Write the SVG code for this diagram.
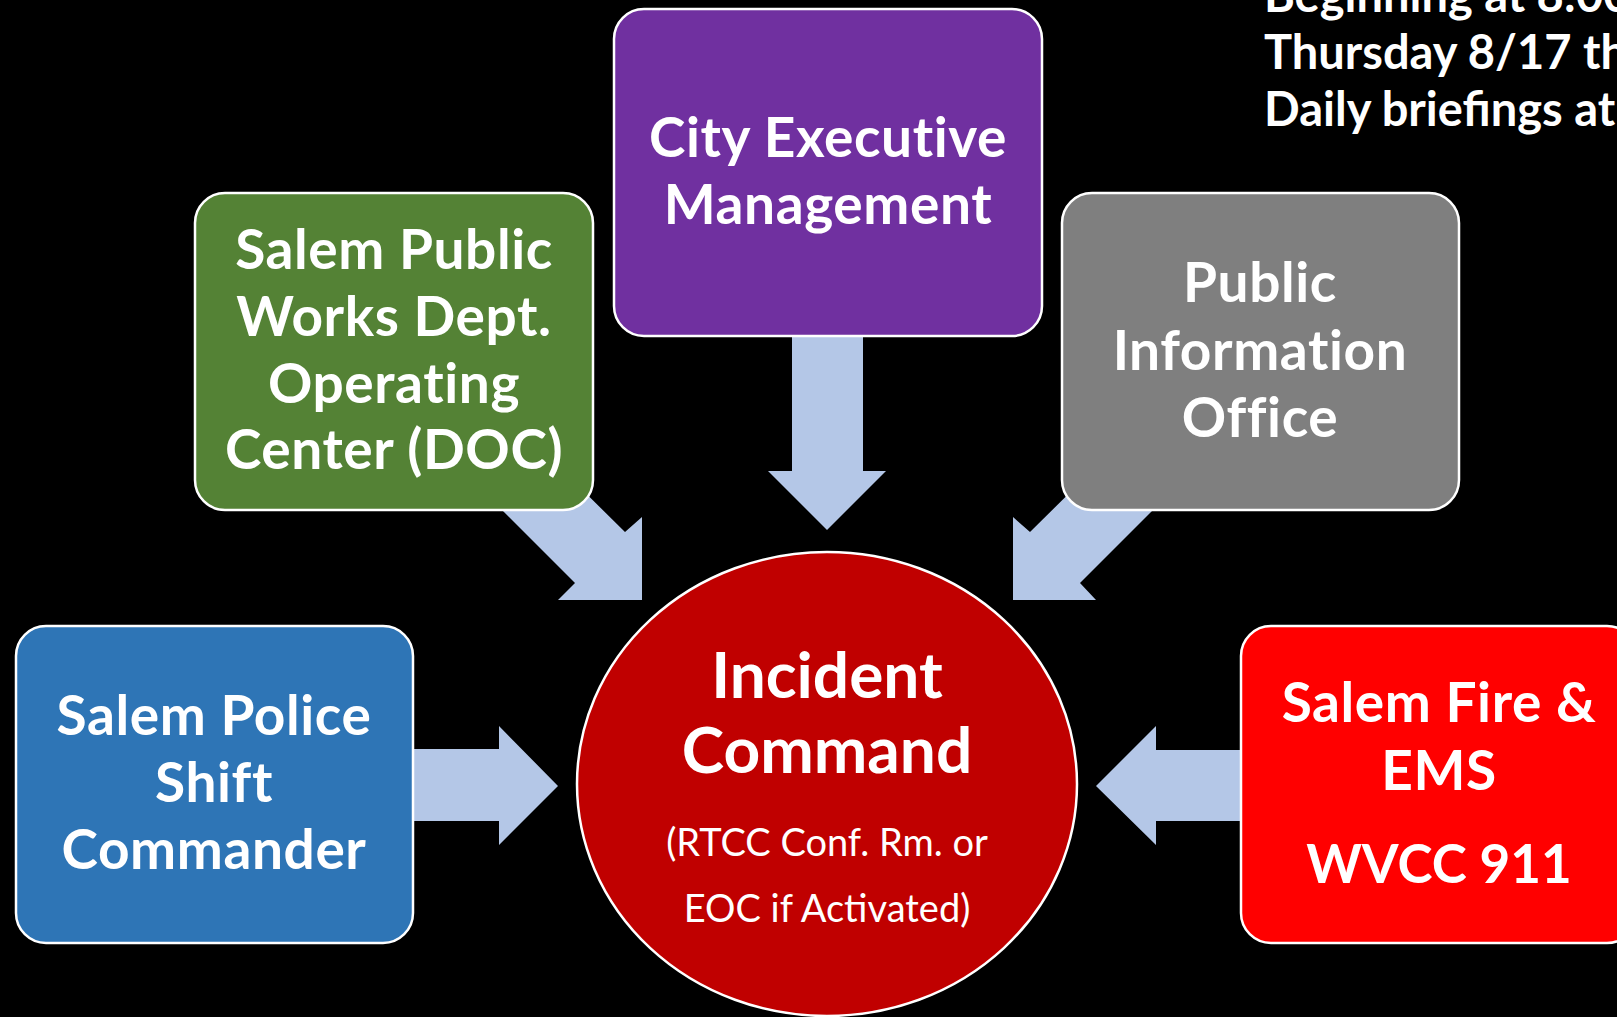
<svg xmlns="http://www.w3.org/2000/svg" width="1617" height="1017" viewBox="0 0 1617 1017">
<style>
.box{stroke:#FFFFFF;stroke-width:2.5}
.arrow{fill:#B4C7E7}
.t{font-family:Lato,"Open Sans","Liberation Sans",sans-serif;font-weight:bold;fill:#FFFFFF;text-anchor:middle}
.big{font-size:55px;letter-spacing:0.6px}
.ic{font-size:64px}
.sub{font-family:Lato,"Open Sans","Liberation Sans",sans-serif;font-weight:normal;font-size:38px;fill:#FFFFFF;text-anchor:middle}
.note{font-family:Lato,"Open Sans","Liberation Sans",sans-serif;font-weight:bold;font-size:47px;fill:#FFFFFF}
</style>
<rect x="0" y="0" width="1617" height="1017" fill="#000000"/>
<g id="connectors">
<polygon class="arrow" points="792,300 863,300 863,471 886,471 827,530 768,471 792,471"/>
<polygon class="arrow" points="540,448 625,532 642,517 642,600 558,600 575,583 490,498"/>
<polygon class="arrow" points="1115,448 1030,532 1013,517 1013,600 1096,600 1080,583 1165,498"/>
<polygon class="arrow" points="390,749 499,749 499,726 558,786 499,845 499,821 390,821"/>
<polygon class="arrow" points="1270,750 1156,750 1156,726 1096,786 1156,845 1156,821 1270,821"/>
</g>
<g id="note">
<text class="note" x="1264" y="12">Beginning at 8:00</text>
<text class="note" x="1264" y="69">Thursday 8/17 thr</text>
<text class="note" x="1264" y="126">Daily briefings at 7</text>
</g>
<g id="city-exec">
<rect class="box" x="614" y="9" width="428" height="327" rx="30" fill="#7030A0"/>
<text class="t big" x="828" y="157">City Executive</text>
<text class="t big" x="828" y="224">Management</text>
</g>
<g id="public-works">
<rect class="box" x="195" y="193" width="398" height="317" rx="30" fill="#548235"/>
<text class="t big" x="394" y="269">Salem Public</text>
<text class="t big" x="394" y="336">Works Dept.</text>
<text class="t big" x="394" y="403">Operating</text>
<text class="t big" x="394" y="469">Center (DOC)</text>
</g>
<g id="pio">
<rect class="box" x="1062" y="193" width="397" height="317" rx="30" fill="#7F7F7F"/>
<text class="t big" x="1260" y="302">Public</text>
<text class="t big" x="1260" y="370">Information</text>
<text class="t big" x="1260" y="437">Office</text>
</g>
<g id="police">
<rect class="box" x="16" y="626" width="397" height="317" rx="30" fill="#2E75B6"/>
<text class="t big" x="214" y="735">Salem Police</text>
<text class="t big" x="214" y="802">Shift</text>
<text class="t big" x="214" y="869">Commander</text>
</g>
<g id="fire">
<rect class="box" x="1241" y="626" width="396" height="317" rx="30" fill="#FF0000"/>
<text class="t big" x="1439" y="722">Salem Fire &amp;</text>
<text class="t big" x="1439" y="790">EMS</text>
<text class="t" style="font-size:53px" x="1439" y="883">WVCC 911</text>
</g>
<g id="incident-command">
<ellipse class="box" cx="827" cy="784" rx="250" ry="232" fill="#C00000"/>
<text class="t ic" x="827" y="698">Incident</text>
<text class="t ic" x="827" y="773">Command</text>
<text class="sub" x="827" y="856">(RTCC Conf. Rm. or</text>
<text class="sub" x="827" y="922">EOC if Activated)</text>
</g>
</svg>
